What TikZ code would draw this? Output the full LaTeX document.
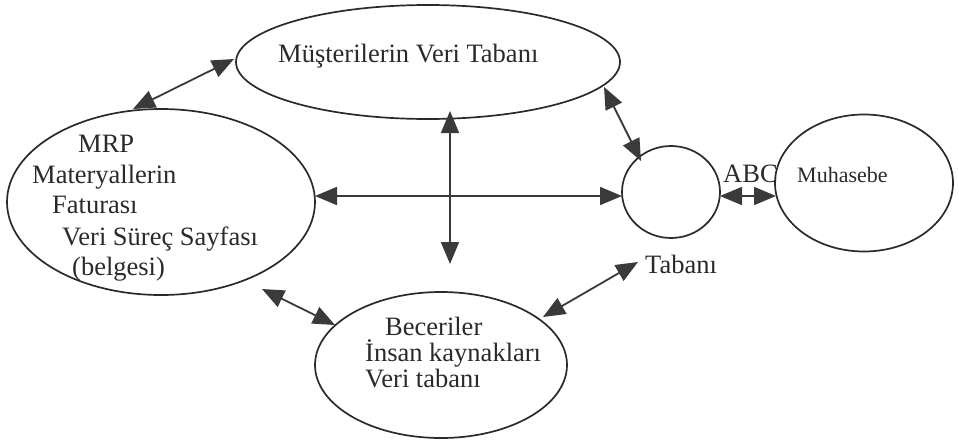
\documentclass[tikz,border=0pt]{standalone}
\usepackage{fontspec}
\setmainfont{Liberation Serif}
\usetikzlibrary{shapes.geometric,arrows.meta}
\definecolor{ink}{HTML}{2A2A2A}
\definecolor{arr}{HTML}{3A3A3A}
\begin{document}
\begin{tikzpicture}[x=1pt,y=-1pt,
  db/.style={draw=ink,line width=1.7pt,ellipse,inner sep=0pt},
  lbl/.style={anchor=base west,inner sep=0pt,font=\fontsize{26.5}{31}\selectfont,text=ink},
  link/.style={draw=arr,line width=1.8pt,{Triangle[length=22pt,width=18pt]}-{Triangle[length=22pt,width=18pt]}}]
\useasboundingbox (0,0) rectangle (959,445);
\node[db,minimum width=384pt,minimum height=114pt] (top) at (428,62) {};
\node[db,minimum width=308pt,minimum height=186pt] (mrp) at (161,202) {};
\node[db,minimum width=98pt,minimum height=92pt] (circ) at (671,192) {};
\node[db,minimum width=178pt,minimum height=137pt] (muh) at (864,183) {};
\node[db,minimum width=252pt,minimum height=146pt] (bec) at (441,365) {};
% texts
\node[lbl] (t1) at (278,62) {Müşterilerin Veri Tabanı};
\node[lbl] (m1) at (78,152) {MRP};
\node[lbl] (m2) at (32,183) {Materyallerin};
\node[lbl] (m3) at (52,213) {Faturası};
\node[lbl] (m4) at (62,245) {Veri Süreç Sayfası};
\node[lbl] (m5) at (72,275) {(belgesi)};
\node[lbl] (b1) at (385,335) {Beceriler};
\node[lbl] (b2) at (365,361) {İnsan kaynakları};
\node[lbl] (b3) at (365,387) {Veri tabanı};
\node[lbl] (abc) at (723,182) {ABC};
\node[lbl,font=\fontsize{22}{26}\selectfont] (mu) at (797,182) {Muhasebe};
\node[lbl] (tab) at (645,273) {Tabanı};
% connector ends
\coordinate (a1s) at (133,109); \coordinate (a1e) at (234,59);
\coordinate (a2s) at (450,111); \coordinate (a2e) at (450,264);
\coordinate (a3s) at (315,196); \coordinate (a3e) at (622,196);
\coordinate (a4s) at (604,87);  \coordinate (a4e) at (641,161);
\coordinate (a5s) at (720,196); \coordinate (a5e) at (776,196);
\coordinate (a6s) at (262,289); \coordinate (a6e) at (335,325);
\coordinate (a7s) at (543,317); \coordinate (a7e) at (638,262);
\draw[link] (a1s) -- (a1e);
\draw[link] (a2s) -- (a2e);
\draw[link] (a3s) -- (a3e);
\draw[link] (a4s) -- (a4e);
\draw[link] (a5s) -- (a5e);
\draw[link] (a6s) -- (a6e);
\draw[link] (a7s) -- (a7e);
\end{tikzpicture}
\end{document}
